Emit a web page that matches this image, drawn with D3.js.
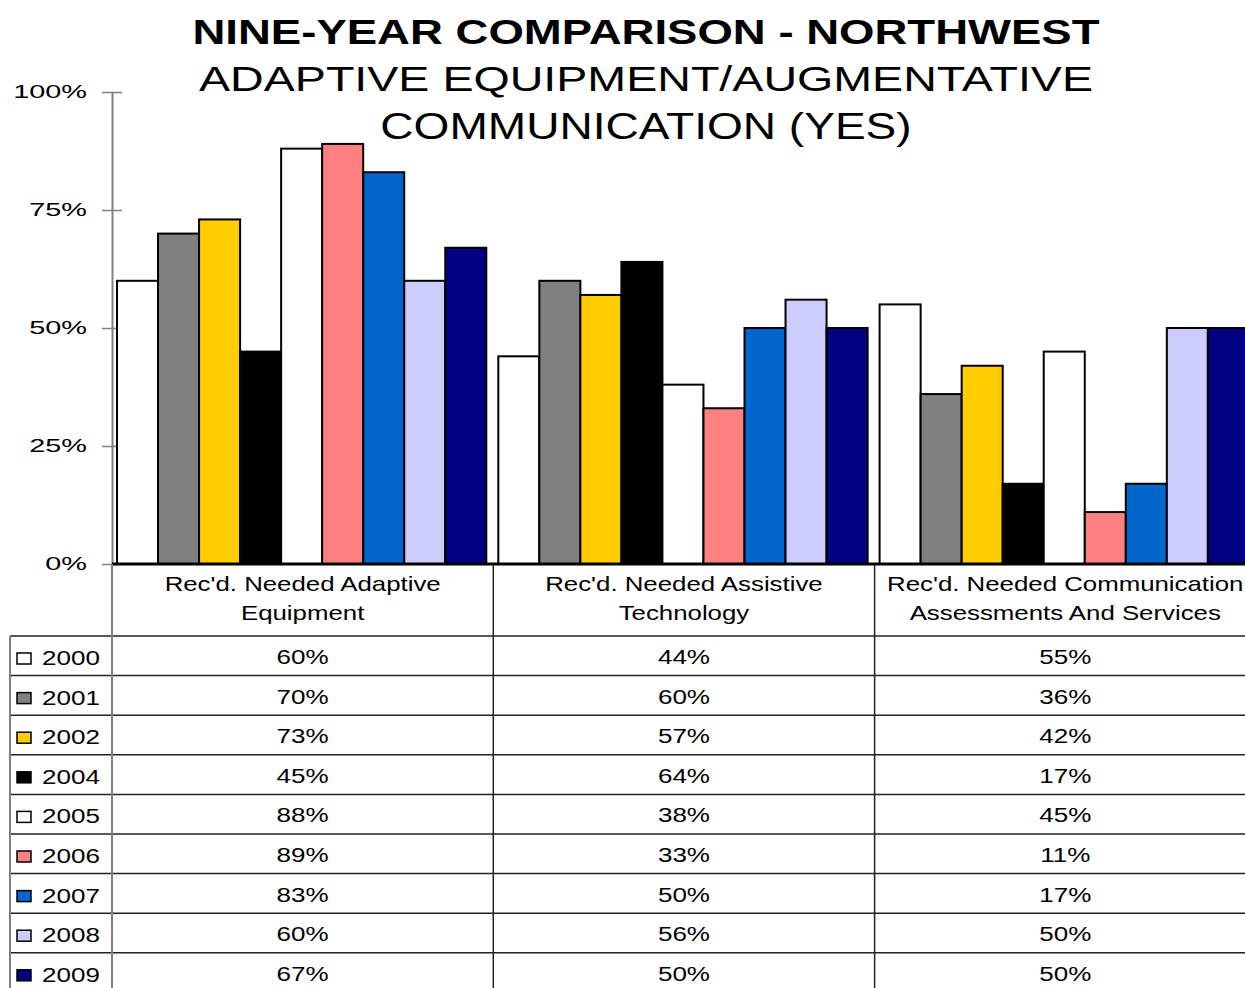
<!DOCTYPE html>
<html>
<head>
<meta charset="utf-8">
<script src="https://cdn.jsdelivr.net/npm/d3@7"></script>
<style>
  body { margin: 0; background: #fff; }
  svg { display: block; font-family: "Liberation Sans", Arial, sans-serif; }
</style>
</head>
<body>
<svg id="chart" width="1245" height="988"></svg>
<script>
// chart data
const categories = ["Rec'd. Needed Adaptive Equipment", "Rec'd. Needed Assistive Technology", "Rec'd. Needed Communication Assessments And Services"];
const categoryLines = [["Rec'd. Needed Adaptive", "Equipment"], ["Rec'd. Needed Assistive", "Technology"], ["Rec'd. Needed Communication", "Assessments And Services"]];
const years = ["2000", "2001", "2002", "2004", "2005", "2006", "2007", "2008", "2009"];
const yearColors = ["#ffffff", "#808080", "#ffcc00", "#000000", "#ffffff", "#ff8080", "#0066cc", "#ccccff", "#000080"];
// one row per year, one value per category (percent)
const yearValues = [
    [60, 44, 55],
    [70, 60, 36],
    [73, 57, 42],
    [45, 64, 17],
    [88, 38, 45],
    [89, 33, 11],
    [83, 50, 17],
    [60, 56, 50],
    [67, 50, 50]
];
const yTicks = [0, 0.25, 0.5, 0.75, 1];

const W = 1245, H = 988;
const plot = {left: 112, top: 92, bottom: 564, bandW: 381.3};
const stretch = 1.25; // the original text is drawn wide

const svg = d3.select("#chart");

// text helper: horizontally stretched text
const wideText = function(parent, str, x, y, size, anchor, sx, weight) {
    return parent.append("text")
        .attr("transform", "translate(" + x + "," + y + ") scale(" + (sx || stretch) + ",1)")
        .attr("text-anchor", anchor || "middle")
        .attr("font-size", size)
        .attr("font-weight", weight || "normal")
        .attr("fill", "#000")
        .text(str);
};

// titles
wideText(svg, "NINE-YEAR COMPARISON - NORTHWEST", 646, 44, 36, "middle", 1.265, "bold");
wideText(svg, "ADAPTIVE EQUIPMENT/AUGMENTATIVE", 646, 91, 36, "middle", 1.295);
wideText(svg, "COMMUNICATION (YES)", 646, 139, 36, "middle", 1.28);

// scales
const x0 = d3.scaleBand()
    .domain(categories)
    .range([plot.left, plot.left + plot.bandW * categories.length])
    .padding(0);

const x1 = d3.scaleBand()
    .domain(years)
    .range([5, x0.bandwidth() - 7])
    .padding(0);

const y = d3.scaleLinear()
    .domain([0, 1])
    .range([plot.bottom, plot.top]);

// y axis
const yAxis = svg.append("g")
    .attr("transform", "translate(" + plot.left + ",0)")
    .call(d3.axisLeft(y).tickValues(yTicks).tickFormat(d3.format(".0%"))
        .tickSizeOuter(0).tickSizeInner(10).tickPadding(15));
yAxis.select(".domain").attr("stroke", "#808080").attr("stroke-width", 2);
yAxis.selectAll(".tick line").attr("x1", -10).attr("x2", 10)
    .attr("stroke", "#808080").attr("stroke-width", 1.5);
yAxis.selectAll(".tick text")
    .attr("x", null).attr("dy", null)
    .attr("transform", "translate(-25,5) scale(1.52,1)")
    .attr("font-size", 19)
    .attr("font-family", "Liberation Sans, Arial, sans-serif")
    .attr("fill", "#000");

// bars
const groups = svg.append("g").selectAll("g")
    .data(categories)
    .enter().append("g")
    .attr("transform", d => "translate(" + x0(d) + ",0)");

groups.selectAll("rect")
    .data((d, ci) => years.map((yr, yi) => ({year: yr, color: yearColors[yi], value: yearValues[yi][ci]})))
    .enter().append("rect")
    .attr("x", d => x1(d.year))
    .attr("y", d => y(d.value / 100))
    .attr("width", x1.bandwidth())
    .attr("height", d => plot.bottom - y(d.value / 100))
    .attr("fill", d => d.color)
    .attr("stroke", "#000")
    .attr("stroke-width", 2);

// baseline
svg.append("line")
    .attr("x1", plot.left).attr("x2", W)
    .attr("y1", plot.bottom).attr("y2", plot.bottom)
    .attr("stroke", "#000").attr("stroke-width", 3);

// data table
const tableTop = 636, rowH = 39.6, tableLeft = 10;
const table = svg.append("g");

// category headers
categoryLines.forEach((lines, ci) => {
    let cx = x0(categories[ci]) + x0.bandwidth() / 2;
    lines.forEach((ln, li) => {
        wideText(table, ln, cx, 591 + li * 29, 21, "middle", 1.23);
    });
});

// horizontal rules
d3.range(years.length).forEach(i => {
    table.append("line")
        .attr("x1", tableLeft).attr("x2", W)
        .attr("y1", tableTop + i * rowH).attr("y2", tableTop + i * rowH)
        .attr("stroke", "#222").attr("stroke-width", 1.5);
});

// vertical rules
table.append("line")
    .attr("x1", tableLeft).attr("x2", tableLeft)
    .attr("y1", tableTop).attr("y2", H)
    .attr("stroke", "#808080").attr("stroke-width", 2);
table.append("line")
    .attr("x1", plot.left).attr("x2", plot.left)
    .attr("y1", plot.bottom).attr("y2", H)
    .attr("stroke", "#808080").attr("stroke-width", 2);
categories.slice(1).forEach(c => {
    table.append("line")
        .attr("x1", x0(c)).attr("x2", x0(c))
        .attr("y1", plot.bottom).attr("y2", H)
        .attr("stroke", "#222").attr("stroke-width", 1.5);
});

// rows: legend key, year, values
years.forEach((yr, yi) => {
    let top = tableTop + yi * rowH;
    table.append("rect")
        .attr("x", 17).attr("y", top + 17)
        .attr("width", 14).attr("height", 11)
        .attr("fill", yearColors[yi])
        .attr("stroke", "#000").attr("stroke-width", 1.5);
    wideText(table, yr, 42, top + 29, 21, "start", 1.24);
    categories.forEach((c, ci) => {
        wideText(table, yearValues[yi][ci] + "%", x0(c) + x0.bandwidth() / 2, top + 28, 21, "middle", 1.24);
    });
});
</script>
</body>
</html>
